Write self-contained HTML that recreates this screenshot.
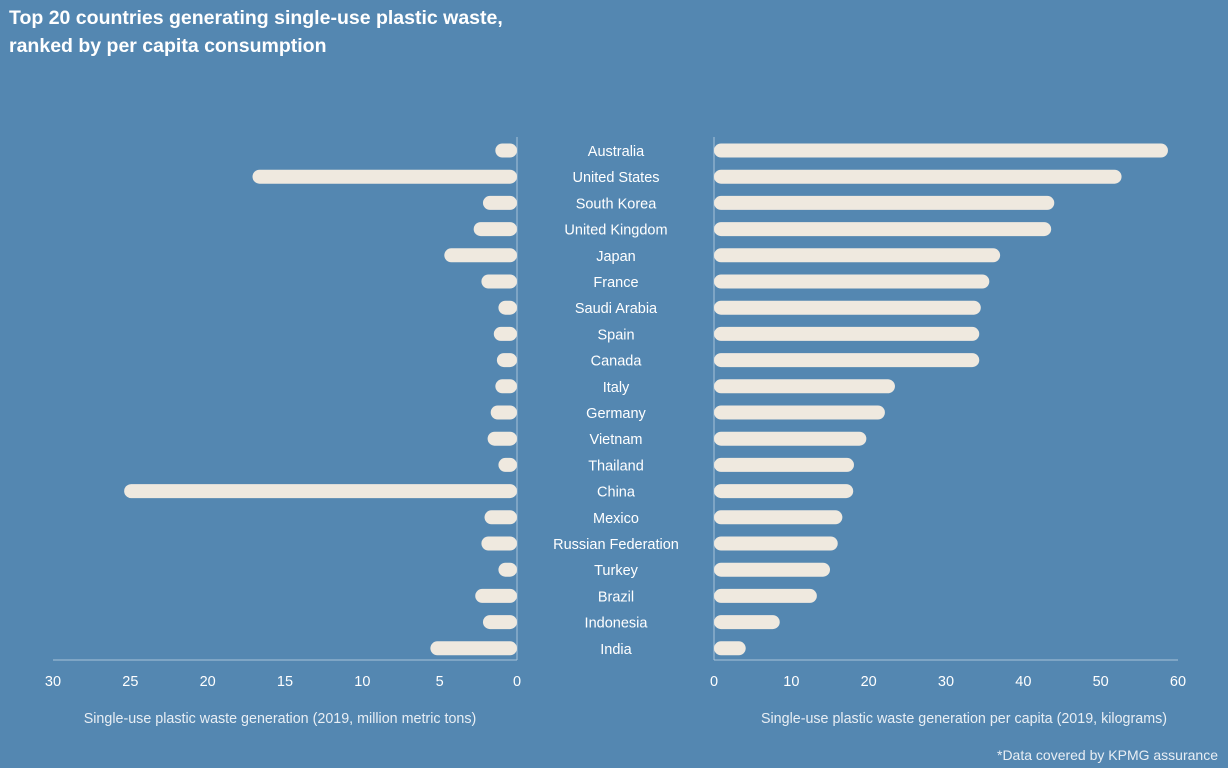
<!DOCTYPE html>
<html><head><meta charset="utf-8"><style>
body{margin:0;width:1228px;height:768px;background:#5487b1;font-family:"Liberation Sans",sans-serif;overflow:hidden}
svg{position:absolute;left:0;top:0}
</style></head><body>
<svg width="1228" height="768" id="c">
<text x="9" y="24" fill="#fff" font-size="19.5" font-weight="bold">Top 20 countries generating single-use plastic waste,</text>
<text x="9" y="52" fill="#fff" font-size="19.5" font-weight="bold">ranked by per capita consumption</text>
<text x="280" y="723" fill="#e8eef4" font-size="14.3" text-anchor="middle">Single-use plastic waste generation (2019, million metric tons)</text>
<text x="964" y="723" fill="#e8eef4" font-size="14.3" text-anchor="middle">Single-use plastic waste generation per capita (2019, kilograms)</text>
<text x="1218" y="760" fill="#e8eef4" font-size="14" text-anchor="end">*Data covered by KPMG assurance</text>
<line x1="517" y1="137" x2="517" y2="660" stroke="#a9c3d9"/>
<line x1="53" y1="660" x2="517" y2="660" stroke="#a9c3d9"/>
<line x1="714" y1="137" x2="714" y2="660" stroke="#a9c3d9"/>
<line x1="714" y1="660" x2="1178" y2="660" stroke="#a9c3d9"/>
</svg>
<script>
const countries=["Australia","United States","South Korea","United Kingdom","Japan","France","Saudi Arabia","Spain","Canada","Italy","Germany","Vietnam","Thailand","China","Mexico","Russian Federation","Turkey","Brazil","Indonesia","India"];
const totalWaste=[1.4,17.1,2.2,2.8,4.7,2.3,1.2,1.5,1.3,1.4,1.7,1.9,1.2,25.4,2.1,2.3,1.2,2.7,2.2,5.6];
const perCapita=[58.7,52.7,44,43.6,37,35.6,34.5,34.3,34.3,23.4,22.1,19.7,18.1,18,16.6,16,15,13.3,8.5,4.1];
const leftTicks=[30,25,20,15,10,5,0];
const rightTicks=[0,10,20,30,40,50,60];
const NS="http://www.w3.org/2000/svg",svg=document.getElementById('c');
const xL=v=>517-v*(464/30), xR=v=>714+v*(464/60), yRow=i=>150.5+i*26.2;
function mk(t,a){const e=document.createElementNS(NS,t);for(const k in a)e.setAttribute(k,a[k]);svg.appendChild(e);return e;}
const h=14,col="#efe9df";
countries.forEach((c,i)=>{
  const y=yRow(i);
  let t=mk('text',{x:616,y:y+5.5,fill:'#fff','font-size':14.5,'text-anchor':'middle'});t.textContent=c;
  
  
  const x0=xL(totalWaste[i]);
  let b=mk('rect',{x:x0,y:y-h/2,width:517-x0,height:h,rx:7,fill:col});
  
  
  let b2=mk('rect',{x:714,y:y-h/2,width:xR(perCapita[i])-714,height:h,rx:7,fill:col});
  
  
});
leftTicks.forEach(v=>{let t=mk('text',{x:xL(v),y:686,fill:'#fff','font-size':14.5,'text-anchor':'middle'});t.textContent=v;
  
  });
rightTicks.forEach(v=>{let t=mk('text',{x:xR(v),y:686,fill:'#fff','font-size':14.5,'text-anchor':'middle'});t.textContent=v;
  
  });
</script>
</body></html>
